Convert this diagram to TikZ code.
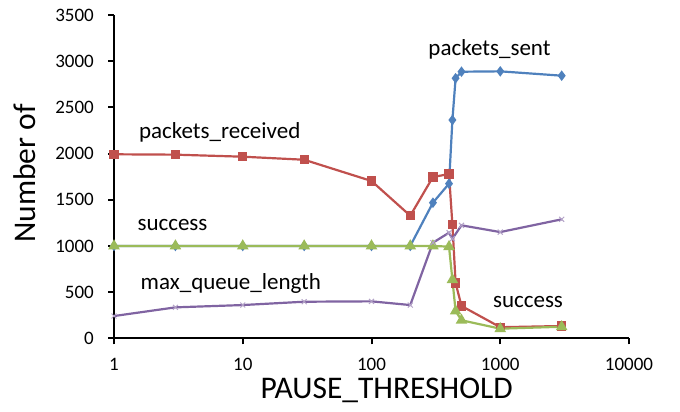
\documentclass[tikz,border=0pt]{standalone}
\usepackage{fontspec}
\setmainfont{Carlito}
\usepackage{pgfplots}
\pgfplotsset{compat=1.17}
\definecolor{sentblue}{HTML}{4F81BD}
\definecolor{recvred}{HTML}{C0504D}
\definecolor{succgreen}{HTML}{9BBB59}
\definecolor{queuepurple}{HTML}{8064A2}
\definecolor{queuemark}{HTML}{B3A2C7}

\tikzset{
  serieslabel/.style={font=\fontsize{23}{27}\selectfont, anchor=base, inner sep=0pt},
  axistitle/.style={font=\fontsize{31.5}{36}\selectfont, inner sep=0pt},
}

\begin{document}
\begin{tikzpicture}[x=1pt,y=1pt]
\useasboundingbox (0,0) rectangle (680,412);
\begin{semilogxaxis}[
  at={(114pt,73.7pt)}, anchor=south west,
  scale only axis, width=515pt, height=323.3pt,
  xmin=1, xmax=10000, ymin=0, ymax=3500,
  clip=false,
  axis x line=bottom, axis y line=left,
  axis line style={-, line width=2pt, black},
  tick style={line width=2pt, black},
  tick align=outside, major tick length=6pt,
  xminorticks=false,
  xtick={1,10,100,1000,10000}, xticklabels={1,10,100,1000,10000},
  ytick={0,500,...,3500}, yticklabels={0,500,1000,1500,2000,2500,3000,3500},
  ticklabel style={font=\fontsize{19}{22}\selectfont, inner sep=0pt},
  xticklabel style={yshift=-13.5pt},
  yticklabel style={xshift=-14pt},
  every axis plot/.append style={line width=2.2pt, mark options={solid}},
]
% packets sent
\addplot[sentblue, mark=diamond*, mark size=3.5pt] coordinates {(1,1000)(3,1000)(10,1000)(30,1000)(100,1000)(200,1000)(300,1468)(400,1674)(425,2363)(450,2815)(500,2886)(1000,2890)(3000,2843)};
% packets received
\addplot[recvred, mark=square*, mark size=3.5pt] coordinates {(1,1992)(3,1988)(10,1966)(30,1933)(100,1703)(200,1327)(300,1746)(400,1778)(425,1230)(450,599)(500,350)(1000,120)(3000,133)};
% success
\addplot[succgreen, mark=triangle*, mark size=4.5pt] coordinates {(1,1000)(3,1000)(10,1000)(30,1000)(100,1000)(200,1000)(300,1000)(400,992)(425,634)(450,295)(500,195)(1000,104)(3000,125)};
% max queue length
\addplot[queuepurple, mark=x, mark size=3.5pt, mark options={queuemark, line width=1pt}] coordinates {(1,241)(3,335)(10,360)(30,396)(100,400)(200,360)(300,1035)(400,1143)(425,1078)(500,1223)(1000,1150)(3000,1288)};
\end{semilogxaxis}

% series labels
\node[serieslabel] (sentlbl) at (489.5,356) {packets\_sent};
\node[serieslabel] (recvlbl) at (219.7,273.7) {packets\_received};
\node[serieslabel] (succlbl) at (172.5,181) {success};
\node[serieslabel] (queuelbl) at (230.8,122.7) {max\_queue\_length};
\node[serieslabel] (succlbl2) at (528,104.3) {success};

% axis titles
\node[axistitle, anchor=base] (xtitle) at (386.7,13.3) {PAUSE\_THRESHOLD};
\node[axistitle, rotate=90] (ytitle) at (25,238.5) {Number of};
\end{tikzpicture}
\end{document}
